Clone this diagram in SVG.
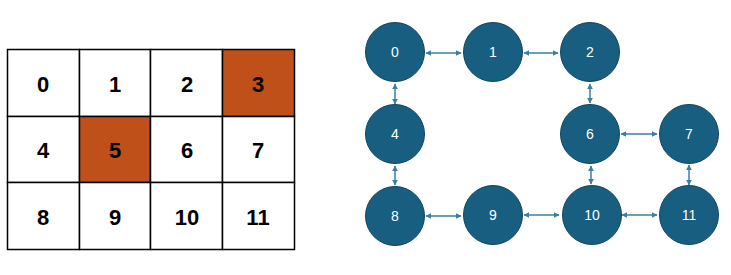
<svg xmlns="http://www.w3.org/2000/svg" width="731" height="275" viewBox="0 0 731 275">
<defs>
<style>
.cell{fill:#fff;stroke:#000;stroke-width:1.5}
.hot{fill:#C0501A}
.ct{font-family:"Liberation Sans",Arial,sans-serif;font-weight:bold;font-size:22px;fill:#000;text-anchor:middle;dominant-baseline:central}
.nd{fill:#175E80;stroke:#0f4660;stroke-width:1}
.nt{font-family:"Liberation Sans",Arial,sans-serif;font-size:14px;fill:#fff;text-anchor:middle;dominant-baseline:central}
.ed{stroke:#3b7fa0;stroke-width:1.5;fill:none;marker-start:url(#a);marker-end:url(#a)}
</style>
<marker id="a" viewBox="0 0 10 10" refX="9" refY="5" markerWidth="4" markerHeight="4" orient="auto-start-reverse" markerUnits="strokeWidth">
<path d="M0,0 L10,5 L0,10 z" fill="#3b7fa0"/>
</marker>
</defs>
<rect width="731" height="275" fill="#fff"/>
<g id="grid">
<rect class="cell" x="7.5" y="49.5" width="72" height="67"/>
<rect class="cell" x="79.5" y="49.5" width="71" height="67"/>
<rect class="cell" x="150.5" y="49.5" width="72" height="67"/>
<rect class="cell hot" x="222.5" y="49.5" width="72" height="67"/>
<rect class="cell" x="7.5" y="116.5" width="72" height="66"/>
<rect class="cell hot" x="79.5" y="116.5" width="71" height="66"/>
<rect class="cell" x="150.5" y="116.5" width="72" height="66"/>
<rect class="cell" x="222.5" y="116.5" width="72" height="66"/>
<rect class="cell" x="7.5" y="182.5" width="72" height="67"/>
<rect class="cell" x="79.5" y="182.5" width="71" height="67"/>
<rect class="cell" x="150.5" y="182.5" width="72" height="67"/>
<rect class="cell" x="222.5" y="182.5" width="72" height="67"/>
<text class="ct" x="43" y="84">0</text>
<text class="ct" x="115" y="84">1</text>
<text class="ct" x="187" y="84">2</text>
<text class="ct" x="258" y="84">3</text>
<text class="ct" x="43" y="150">4</text>
<text class="ct" x="115" y="150">5</text>
<text class="ct" x="187" y="150">6</text>
<text class="ct" x="258" y="150">7</text>
<text class="ct" x="43" y="217">8</text>
<text class="ct" x="115" y="217">9</text>
<text class="ct" x="187" y="217">10</text>
<text class="ct" x="258" y="217">11</text>
</g>
<g id="connectors">
<line class="ed" x1="426" y1="53" x2="461" y2="53"/>
<line class="ed" x1="524" y1="53" x2="558" y2="53"/>
<line class="ed" x1="395" y1="84" x2="395" y2="104"/>
<line class="ed" x1="590" y1="84" x2="590" y2="103"/>
<line class="ed" x1="621" y1="134" x2="657" y2="134"/>
<line class="ed" x1="395" y1="166" x2="395" y2="185"/>
<line class="ed" x1="591" y1="166" x2="591" y2="184"/>
<line class="ed" x1="689" y1="165" x2="689" y2="185"/>
<line class="ed" x1="426" y1="216" x2="461" y2="216"/>
<line class="ed" x1="524" y1="215" x2="559" y2="215"/>
<line class="ed" x1="622" y1="215" x2="657" y2="215"/>
</g>
<g id="n0"><circle class="nd" cx="395" cy="52" r="29.5"/><text class="nt" x="395" y="52">0</text></g>
<g id="n1"><circle class="nd" cx="493" cy="52" r="29.5"/><text class="nt" x="493" y="52">1</text></g>
<g id="n2"><circle class="nd" cx="590" cy="52" r="29.5"/><text class="nt" x="590" y="52">2</text></g>
<g id="n4"><circle class="nd" cx="395" cy="134" r="29.5"/><text class="nt" x="395" y="134">4</text></g>
<g id="n6"><circle class="nd" cx="590" cy="134" r="29.5"/><text class="nt" x="590" y="134">6</text></g>
<g id="n7"><circle class="nd" cx="689" cy="134" r="29.5"/><text class="nt" x="689" y="134">7</text></g>
<g id="n8"><circle class="nd" cx="395" cy="216" r="29.5"/><text class="nt" x="395" y="216">8</text></g>
<g id="n9"><circle class="nd" cx="493" cy="215" r="29.5"/><text class="nt" x="493" y="215">9</text></g>
<g id="n10"><circle class="nd" cx="592" cy="215" r="29.5"/><text class="nt" x="592" y="215">10</text></g>
<g id="n11"><circle class="nd" cx="689" cy="215" r="29.5"/><text class="nt" x="689" y="215">11</text></g>
</svg>
